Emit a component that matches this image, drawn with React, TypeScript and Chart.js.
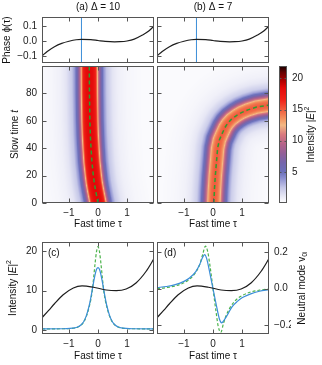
import React, { useEffect, useRef } from 'react';
import { Chart, registerables } from 'chart.js';

Chart.register(...registerables);

const FONT = '"Liberation Sans", Arial, Helvetica, sans-serif';
const PAGE_W = 322;
const PAGE_H = 365;

// ---------------- data ----------------
const tauRange = [-1.93, 1.93];
const tauTicks = [-1, 0, 1];
const tauTickLabels = ['−1', '0', '1'];

const phaseRange = [-0.147, 0.16];
const phaseTicks = [-0.1, 0, 0.1];
const phaseTickLabels = ['−0.1', '0.0', '0.1'];
const phaseTau = [-1.93, -1.75, -1.5, -1.25, -1.0, -0.75, -0.57, -0.25, 0, 0.25, 0.57, 0.75, 1.0, 1.25, 1.5, 1.75, 1.93];
const phaseVal = [-0.1, -0.07, -0.038, -0.016, -0.002, 0.008, 0.011, 0.009, 0.003, -0.003, -0.006, -0.005, 0.0, 0.012, 0.036, 0.066, 0.1];
const markerTau = -0.57;

const slowRange = [0, 100];
const slowTicks = [0, 20, 40, 60, 80];

const leftTrajT = [0, 5, 10, 15, 20, 30, 40, 50, 60, 80, 100];
const leftTrajTau = [0.0, -0.045, -0.09, -0.13, -0.16, -0.21, -0.24, -0.265, -0.28, -0.295, -0.3];
const rightTrajT = [0, 10, 20, 30, 40, 46, 50, 55, 58, 61, 64, 66, 68, 70, 71.5, 73, 75];
const rightTrajTau = [0.03, 0.05, 0.08, 0.12, 0.16, 0.22, 0.3, 0.41, 0.5, 0.63, 0.82, 0.98, 1.2, 1.5, 1.93, 2.5, 3.2];

const profileOffsets = [0, 0.1, 0.15, 0.2, 0.23, 0.26, 0.29, 0.33, 0.4, 0.5, 0.6, 0.8, 1.0, 1.3, 1.8];
const leftProfile = [18.4, 18.1, 17.6, 16.7, 15.6, 13.6, 11.6, 9.2, 6.3, 3.6, 2.2, 1.0, 0.5, 0.2, 0.0];
const rightProfile = [14.8, 14.3, 13.7, 12.7, 11.6, 10.4, 9.2, 7.8, 5.5, 3.2, 1.9, 0.9, 0.45, 0.18, 0.0];
const heatBackground = 0.25;

const cbRange = [0, 22];
const cbTicks = [5, 10, 15, 20];

const intRange = [-1.02, 22.4];
const intTicks = [0, 10, 20];
const modeRange = [-0.247, 0.2545];
const modeTicks = [-0.2, 0, 0.2];
const modeTickLabels = ['−0.2', '0.0', '0.2'];

const cTau = [-1.93, -1.2, -0.8, -0.7, -0.6, -0.5, -0.4, -0.3, -0.25, -0.2, -0.15, -0.1, -0.05, 0, 0.05, 0.1, 0.15, 0.2, 0.25, 0.3, 0.4, 0.5, 0.6, 0.7, 0.8, 1.2, 1.93];
const cBlue = [0.3, 0.32, 0.53, 0.76, 1.2, 2.05, 3.65, 6.3, 8.1, 10.15, 12.25, 14.12, 15.44, 15.9, 15.44, 14.12, 12.25, 10.15, 8.1, 6.3, 3.65, 2.05, 1.2, 0.76, 0.53, 0.32, 0.3];
const cGreen = [0.3, 0.32, 0.5, 0.72, 1.12, 1.95, 3.5, 6.0, 7.6, 9.9, 13.3, 17.0, 20.0, 21.2, 20.0, 17.0, 13.3, 9.9, 7.6, 6.0, 3.5, 1.95, 1.12, 0.72, 0.5, 0.32, 0.3];

const blackTau = [-1.93, -1.7, -1.5, -1.2, -0.85, -0.55, -0.16, 0.28, 0.63, 0.97, 1.31, 1.66, 1.93];
const blackVal = [-0.158, -0.118, -0.082, -0.033, 0.004, 0.015, 0.008, -0.007, -0.011, -0.002, 0.031, 0.095, 0.164];

const dTau = [-1.93, -1.6, -1.3, -1.0, -0.8, -0.6, -0.45, -0.36, -0.29, -0.22, -0.1, 0, 0.1, 0.22, 0.3, 0.38, 0.5, 0.65, 0.85, 1.0, 1.3, 1.6, 1.93];
const dBlue = [0.006, 0.012, 0.022, 0.04, 0.06, 0.092, 0.135, 0.17, 0.186, 0.165, 0.078, 0, -0.078, -0.165, -0.186, -0.172, -0.142, -0.1, -0.068, -0.05, -0.028, -0.014, -0.005];
const dGreenTau = [-1.93, -1.6, -1.3, -1.0, -0.8, -0.6, -0.45, -0.35, -0.26, -0.18, -0.1, 0, 0.1, 0.18, 0.27, 0.36, 0.47, 0.62, 0.8, 1.0, 1.3, 1.6, 1.93];
const dGreen = [0.0, 0.006, 0.015, 0.032, 0.052, 0.088, 0.135, 0.19, 0.232, 0.2, 0.12, 0, -0.12, -0.205, -0.238, -0.19, -0.14, -0.095, -0.06, -0.038, -0.018, -0.008, -0.002];

// ---------------- styling ----------------
const CMAP: number[][] = [
  [0, 255, 255, 255],
  [1, 234, 234, 246],
  [2.5, 196, 198, 231],
  [4, 140, 143, 208],
  [5, 108, 113, 187],
  [6.5, 118, 102, 172],
  [8, 148, 96, 152],
  [9.5, 182, 100, 138],
  [11, 218, 122, 126],
  [12.5, 244, 186, 132],
  [13.5, 244, 148, 96],
  [15, 240, 92, 62],
  [16.5, 240, 36, 26],
  [18.5, 228, 10, 10],
  [19.5, 182, 0, 0],
  [21, 100, 0, 0],
  [22, 20, 0, 0],
];
const BLACK = '#1e1e1e';
const BLUE = '#3b8ed8';
const GREEN = '#4cb34c';
const GREEN_HEAT = '#2f9e2f';
const FRAME = '#555555';
const TEXT = '#111111';

function cmap(v: number): number[] {
  if (v <= CMAP[0][0]) return CMAP[0].slice(1);
  for (let i = 1; i < CMAP.length; i++) {
    if (v <= CMAP[i][0]) {
      const f = (v - CMAP[i - 1][0]) / (CMAP[i][0] - CMAP[i - 1][0]);
      return [1, 2, 3].map((k) => CMAP[i - 1][k] + f * (CMAP[i][k] - CMAP[i - 1][k]));
    }
  }
  return CMAP[CMAP.length - 1].slice(1);
}

function lookup(xs: number[], ys: number[], x: number): number {
  if (x <= xs[0]) return ys[0];
  for (let i = 1; i < xs.length; i++) {
    if (x <= xs[i]) {
      const f = (x - xs[i - 1]) / (xs[i] - xs[i - 1]);
      return ys[i - 1] + f * (ys[i] - ys[i - 1]);
    }
  }
  return ys[ys.length - 1];
}

// ---------------- plugins ----------------
const heatPlugin = {
  id: 'heat',
  beforeDatasetsDraw(chart: any, _a: any, opts: any) {
    if (!opts || !opts.trajT) return;
    const { ctx, chartArea: a } = chart;
    const xs = chart.scales.x;
    const ys = chart.scales.y;
    const k = Math.abs(ys.getPixelForValue(1) - ys.getPixelForValue(0)) /
      Math.abs(xs.getPixelForValue(1) - xs.getPixelForValue(0));
    const tt: number[] = opts.trajT;
    const tx: number[] = opts.trajTau;
    const pts: number[][] = [];
    for (let i = 0; i < tt.length - 1; i++) {
      for (let j = 0; j < 30; j++) {
        const f = j / 30;
        pts.push([tx[i] + f * (tx[i + 1] - tx[i]), (tt[i] + f * (tt[i + 1] - tt[i])) * k]);
      }
    }
    pts.push([tx[tx.length - 1], tt[tt.length - 1] * k]);
    const x0 = Math.round(a.left);
    const y0 = Math.round(a.top);
    const w = Math.round(a.right) - x0;
    const h = Math.round(a.bottom) - y0;
    const img = ctx.createImageData(w, h);
    const offs: number[] = opts.offsets;
    const prof: number[] = opts.profile;
    const maxOff = offs[offs.length - 1];
    for (let py = 0; py < h; py++) {
      const t = ys.getValueForPixel(y0 + py + 0.5) * k;
      for (let px = 0; px < w; px++) {
        const tau = xs.getValueForPixel(x0 + px + 0.5);
        let best = 1e9;
        for (let q = 0; q < pts.length; q++) {
          const dx = tau - pts[q][0];
          const dy = t - pts[q][1];
          const d = dx * dx + dy * dy;
          if (d < best) best = d;
        }
        const dist = Math.sqrt(best);
        const v = opts.background + (dist >= maxOff ? 0 : lookup(offs, prof, dist));
        const c = cmap(v);
        const idx = (py * w + px) * 4;
        img.data[idx] = c[0];
        img.data[idx + 1] = c[1];
        img.data[idx + 2] = c[2];
        img.data[idx + 3] = 255;
      }
    }
    ctx.putImageData(img, x0, y0);
  },
};

const cbarPlugin = {
  id: 'cbar',
  beforeDatasetsDraw(chart: any, _a: any, opts: any) {
    if (!opts || !opts.on) return;
    const { ctx, chartArea: a } = chart;
    const ys = chart.scales.y;
    for (let py = Math.round(a.top); py < Math.round(a.bottom); py++) {
      const c = cmap(ys.getValueForPixel(py + 0.5));
      ctx.fillStyle = `rgb(${c[0] | 0},${c[1] | 0},${c[2] | 0})`;
      ctx.fillRect(a.left, py, a.right - a.left, 1);
    }
  },
};

const framePlugin = {
  id: 'frame',
  afterDatasetsDraw(chart: any, _a: any, opts: any) {
    if (!opts || !opts.on) return;
    const { ctx, chartArea: a } = chart;
    const L = opts.len ?? 4;
    ctx.save();
    ctx.strokeStyle = FRAME;
    ctx.lineWidth = 1;
    const left = Math.round(a.left) + 0.5;
    const right = Math.round(a.right) - 0.5;
    const top = Math.round(a.top) + 0.5;
    const bottom = Math.round(a.bottom) - 0.5;
    ctx.beginPath();
    if (opts.xTicks) {
      for (const v of opts.xTicks) {
        const px = Math.round(chart.scales.x.getPixelForValue(v)) + 0.5;
        ctx.moveTo(px, bottom);
        ctx.lineTo(px, bottom - L);
        ctx.moveTo(px, top);
        ctx.lineTo(px, top + L);
      }
    }
    if (opts.yTicks) {
      const ys = chart.scales[opts.yAxis || 'y'];
      for (const v of opts.yTicks) {
        const py = Math.round(ys.getPixelForValue(v)) + 0.5;
        ctx.moveTo(left, py);
        ctx.lineTo(left + L, py);
        ctx.moveTo(right, py);
        ctx.lineTo(right - L, py);
      }
    }
    ctx.stroke();
    ctx.strokeRect(left, top, right - left, bottom - top);
    ctx.restore();
  },
};

type Part = { t: string; italic?: boolean; scale?: number; dy?: number };
type Label = { x: number; y: number; rot?: number; align?: 'left' | 'center'; parts: Part[] };

const textPlugin = {
  id: 'richText',
  afterDraw(chart: any, _a: any, opts: any) {
    const items: Label[] = (opts && opts.items) || [];
    const ctx = chart.ctx;
    for (const it of items) {
      ctx.save();
      ctx.translate(it.x, it.y);
      if (it.rot) ctx.rotate(it.rot);
      ctx.fillStyle = TEXT;
      ctx.textBaseline = 'middle';
      ctx.textAlign = 'left';
      const fonts = it.parts.map((p) => `${p.italic ? 'italic ' : ''}${(10 * (p.scale || 1)).toFixed(1)}px ${FONT}`);
      const widths = it.parts.map((p, i) => {
        ctx.font = fonts[i];
        return ctx.measureText(p.t).width;
      });
      const total = widths.reduce((s, v) => s + v, 0);
      let cx = it.align === 'left' ? 0 : -total / 2;
      it.parts.forEach((p, i) => {
        ctx.font = fonts[i];
        ctx.fillText(p.t, cx, p.dy || 0);
        cx += widths[i];
      });
      ctx.restore();
    }
  },
};

// ---------------- helpers ----------------
type AxisSpec = {
  range: number[];
  ticks: number[];
  labels?: string[];
  size: number;
  horizontal: boolean;
  position?: string;
};

function axis(s: AxisSpec) {
  return {
    type: 'linear',
    position: s.position,
    min: s.range[0],
    max: s.range[1],
    display: true,
    grid: { display: false, drawTicks: false },
    border: { display: false },
    ticks: {
      display: !!s.labels,
      padding: s.horizontal ? 4 : 5,
      autoSkip: false,
      maxRotation: 0,
      color: '#222',
      font: { family: FONT, size: 10 },
      callback: (_v: any, i: number) => (s.labels ? s.labels[i] : ''),
    },
    afterBuildTicks: (sc: any) => {
      sc.ticks = s.ticks.map((v) => ({ value: v }));
    },
    afterFit: (sc: any) => {
      if (s.horizontal) sc.height = s.size;
      else sc.width = s.size;
    },
  };
}

function lineDs(xs: number[], ys: number[], color: string, extra: any = {}) {
  return {
    data: xs.map((x, i) => ({ x, y: ys[i] })),
    borderColor: color,
    borderWidth: 1.2,
    pointRadius: 0,
    fill: false,
    cubicInterpolationMode: 'monotone',
    ...extra,
  };
}

type Rect = { l: number; t: number; r: number; b: number };

function config(area: Rect, sizes: { left: number; right: number; bottom: number }, scales: any, datasets: any[], pluginOpts: any) {
  return {
    type: 'line',
    data: { datasets },
    plugins: [heatPlugin, cbarPlugin, framePlugin, textPlugin],
    options: {
      responsive: false,
      animation: false,
      devicePixelRatio: 1,
      events: [],
      layout: {
        autoPadding: false,
        padding: {
          left: area.l - sizes.left,
          top: area.t,
          right: PAGE_W - area.r - sizes.right,
          bottom: PAGE_H - area.b - sizes.bottom,
        },
      },
      scales,
      plugins: { legend: { display: false }, tooltip: { enabled: false }, ...pluginOpts },
    },
  };
}

const title = (s: string): Part[] => [{ t: s }];
const rotUp = -Math.PI / 2;

function buildConfigs() {
  const topL: Rect = { l: 42, t: 17, r: 154, b: 63 };
  const topR: Rect = { l: 157, t: 17, r: 269, b: 63 };
  const heatL: Rect = { l: 42, t: 66, r: 154, b: 203 };
  const heatR: Rect = { l: 157, t: 66, r: 269, b: 203 };
  const cbar: Rect = { l: 279, t: 66, r: 287, b: 203 };
  const botL: Rect = { l: 42, t: 242, r: 154, b: 334 };
  const botR: Rect = { l: 157, t: 242, r: 269, b: 334 };

  const phaseDatasets = () => [
    lineDs(phaseTau, phaseVal, BLACK),
    lineDs([markerTau, markerTau], [phaseRange[0], phaseRange[1]], BLUE, { borderWidth: 1, cubicInterpolationMode: 'default', tension: 0 }),
  ];

  const cfgA = config(topL, { left: 42, right: 0, bottom: 0 }, {
    x: axis({ range: tauRange, ticks: tauTicks, size: 0, horizontal: true }),
    y: axis({ range: phaseRange, ticks: phaseTicks, labels: phaseTickLabels, size: 42, horizontal: false }),
  }, phaseDatasets(), {
    frame: { on: true, xTicks: tauTicks, yTicks: phaseTicks },
    richText: {
      items: [
        { x: 98, y: 7, parts: title('(a) Δ = 10') },
        { x: 7, y: 40, rot: rotUp, parts: title('Phase ϕ(τ)') },
      ],
    },
  });

  const cfgB = config(topR, { left: 0, right: 0, bottom: 0 }, {
    x: axis({ range: tauRange, ticks: tauTicks, size: 0, horizontal: true }),
    y: axis({ range: phaseRange, ticks: phaseTicks, size: 0, horizontal: false }),
  }, phaseDatasets(), {
    frame: { on: true, xTicks: tauTicks, yTicks: phaseTicks },
    richText: { items: [{ x: 213, y: 7, parts: title('(b) Δ = 7') }] },
  });

  const trajDs = (tt: number[], tx: number[]) =>
    lineDs(tx, tt, GREEN_HEAT, { borderWidth: 1.5, borderDash: [4, 3], cubicInterpolationMode: 'default', tension: 0 });

  const cfgC = config(heatL, { left: 42, right: 0, bottom: 14 }, {
    x: axis({ range: tauRange, ticks: tauTicks, labels: tauTickLabels, size: 14, horizontal: true }),
    y: axis({ range: slowRange, ticks: slowTicks, labels: slowTicks.map(String), size: 42, horizontal: false }),
  }, [trajDs(leftTrajT, leftTrajTau)], {
    heat: { trajT: leftTrajT, trajTau: leftTrajTau, offsets: profileOffsets, profile: leftProfile, background: heatBackground },
    frame: { on: true, xTicks: tauTicks, yTicks: slowTicks },
    richText: {
      items: [
        { x: 15, y: 134.5, rot: rotUp, parts: [{ t: 'Slow time ' }, { t: 't', italic: true }] },
        { x: 98, y: 224, parts: title('Fast time τ') },
      ],
    },
  });

  const cfgD = config(heatR, { left: 0, right: 0, bottom: 14 }, {
    x: axis({ range: tauRange, ticks: tauTicks, labels: tauTickLabels, size: 14, horizontal: true }),
    y: axis({ range: slowRange, ticks: slowTicks, size: 0, horizontal: false }),
  }, [trajDs(rightTrajT, rightTrajTau)], {
    heat: { trajT: rightTrajT, trajTau: rightTrajTau, offsets: profileOffsets, profile: rightProfile, background: heatBackground },
    frame: { on: true, xTicks: tauTicks, yTicks: slowTicks },
    richText: { items: [{ x: 213, y: 224, parts: title('Fast time τ') }] },
  });

  const cfgE = config(cbar, { left: 0, right: 22, bottom: 0 }, {
    x: axis({ range: [0, 1], ticks: [], size: 0, horizontal: true }),
    y: axis({ range: cbRange, ticks: cbTicks, labels: cbTicks.map(String), size: 22, horizontal: false, position: 'right' }),
  }, [], {
    cbar: { on: true },
    frame: { on: true, yTicks: cbTicks, len: 2 },
    richText: {
      items: [
        {
          x: 311, y: 134.5, rot: rotUp,
          parts: [{ t: 'Intensity |' }, { t: 'E', italic: true }, { t: '|' }, { t: '2', scale: 0.7, dy: -4 }],
        },
      ],
    },
  });

  const cfgF = config(botL, { left: 42, right: 0, bottom: 14 }, {
    x: axis({ range: tauRange, ticks: tauTicks, labels: tauTickLabels, size: 14, horizontal: true }),
    y: axis({ range: intRange, ticks: intTicks, labels: intTicks.map(String), size: 42, horizontal: false }),
    y2: axis({ range: modeRange, ticks: modeTicks, size: 0, horizontal: false, position: 'right' }),
  }, [
    lineDs(blackTau, blackVal, BLACK, { yAxisID: 'y2' }),
    lineDs(cTau, cBlue, BLUE, { yAxisID: 'y' }),
    lineDs(cTau, cGreen, GREEN, { yAxisID: 'y', borderDash: [3, 2] }),
  ], {
    frame: { on: true, xTicks: tauTicks, yTicks: intTicks, yAxis: 'y' },
    richText: {
      items: [
        { x: 48, y: 253.5, align: 'left', parts: title('(c)') },
        {
          x: 13, y: 288, rot: rotUp,
          parts: [{ t: 'Intensity |' }, { t: 'E', italic: true }, { t: '|' }, { t: '2', scale: 0.7, dy: -4 }],
        },
        { x: 98, y: 356, parts: title('Fast time τ') },
      ],
    },
  });

  const cfgG = config(botR, { left: 0, right: 22, bottom: 14 }, {
    x: axis({ range: tauRange, ticks: tauTicks, labels: tauTickLabels, size: 14, horizontal: true }),
    y: axis({ range: intRange, ticks: intTicks, size: 0, horizontal: false }),
    y2: axis({ range: modeRange, ticks: modeTicks, labels: modeTickLabels, size: 22, horizontal: false, position: 'right' }),
  }, [
    lineDs(blackTau, blackVal, BLACK, { yAxisID: 'y2' }),
    lineDs(dTau, dBlue, BLUE, { yAxisID: 'y2' }),
    lineDs(dGreenTau, dGreen, GREEN, { yAxisID: 'y2', borderDash: [3, 2] }),
  ], {
    frame: { on: true, xTicks: tauTicks, yTicks: modeTicks, yAxis: 'y2' },
    richText: {
      items: [
        { x: 164, y: 253.5, align: 'left', parts: title('(d)') },
        {
          x: 302, y: 288, rot: rotUp,
          parts: [{ t: 'Neutral mode v' }, { t: '0i', scale: 0.7, dy: 3 }],
        },
        { x: 213, y: 356, parts: title('Fast time τ') },
      ],
    },
  });

  return [cfgA, cfgB, cfgC, cfgD, cfgE, cfgF, cfgG];
}

export default function App() {
  const refs = useRef<(HTMLCanvasElement | null)[]>([]);
  useEffect(() => {
    const cfgs = buildConfigs();
    const charts = cfgs.map((cfg, i) => new Chart(refs.current[i] as HTMLCanvasElement, cfg as any));
    return () => charts.forEach((c) => c.destroy());
  }, []);
  return (
    <div style={{ position: 'absolute', left: 0, top: 0, width: PAGE_W, height: PAGE_H, background: '#fff' }}>
      {Array.from({ length: 7 }).map((_, i) => (
        <canvas
          key={i}
          ref={(el) => {
            refs.current[i] = el;
          }}
          width={PAGE_W}
          height={PAGE_H}
          style={{ position: 'absolute', left: 0, top: 0, width: PAGE_W, height: PAGE_H }}
        />
      ))}
    </div>
  );
}
